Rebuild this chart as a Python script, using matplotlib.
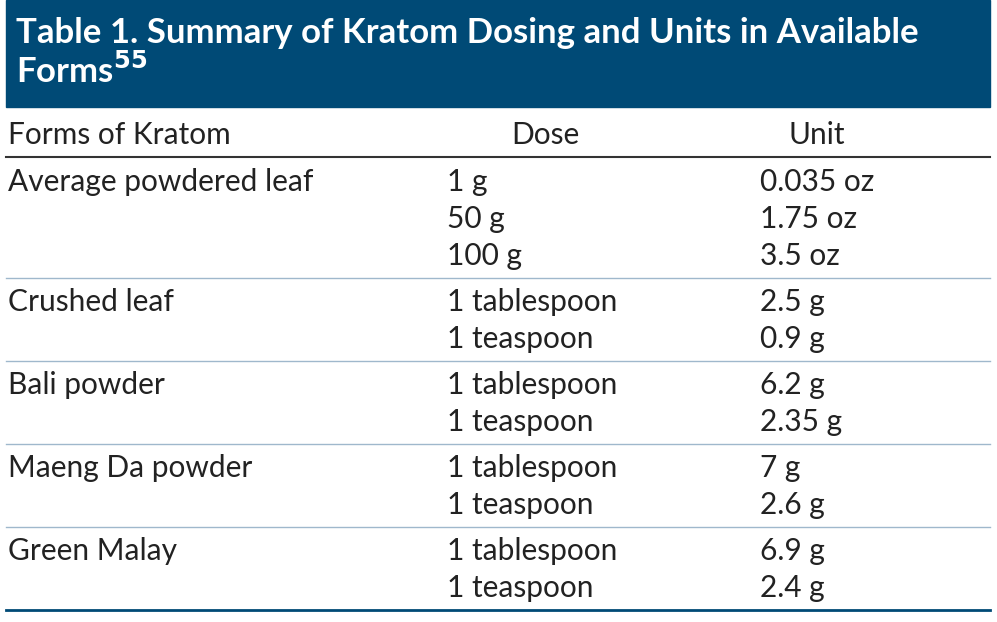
import matplotlib.pyplot as plt
from matplotlib.patches import Rectangle

title = "Table 1. Summary of Kratom Dosing and Units in Available\nForms$\\mathbf{^{55}}$"
columns = ["Forms of Kratom", "Dose", "Unit"]
forms = ["Average powdered leaf", "Crushed leaf", "Bali powder", "Maeng Da powder", "Green Malay"]
doses = [["1 g", "50 g", "100 g"],
         ["1 tablespoon", "1 teaspoon"],
         ["1 tablespoon", "1 teaspoon"],
         ["1 tablespoon", "1 teaspoon"],
         ["1 tablespoon", "1 teaspoon"]]
units = [["0.035 oz", "1.75 oz", "3.5 oz"],
         ["2.5 g", "0.9 g"],
         ["6.2 g", "2.35 g"],
         ["7 g", "2.6 g"],
         ["6.9 g", "2.4 g"]]

navy = "#004a76"
plt.rcParams["font.family"] = "Lato"
fig = plt.figure(figsize=(9.97, 6.22), dpi=100)
ax = fig.add_axes([0, 0, 1, 1])
ax.set_xlim(0, 997)
ax.set_ylim(622, 0)
ax.axis("off")

ax.add_patch(Rectangle((6, 0), 984, 107, color=navy))
ax.text(16, 53, title, color="white", fontsize=25, fontweight="bold",
        va="center", ha="left", linespacing=1.1)

fs = 21.5
ax.text(8, 135, columns[0], fontsize=fs, va="center", color="#222")
ax.text(545, 135, columns[1], fontsize=fs, va="center", ha="center", color="#222")
ax.text(817, 135, columns[2], fontsize=fs, va="center", ha="center", color="#222")
ax.plot([6, 990], [157, 157], color="#333", lw=1.5)

y = 182
step = 37
for i, form in enumerate(forms):
    ax.text(8, y, form, fontsize=fs, va="center", color="#222")
    for j in range(len(doses[i])):
        ax.text(447, y + j * step, doses[i][j], fontsize=fs, va="center", color="#222")
        ax.text(760, y + j * step, units[i][j], fontsize=fs, va="center", color="#222")
    yl = y + (len(doses[i]) - 1) * step + 22
    if i < len(forms) - 1:
        ax.plot([6, 990], [yl, yl], color="#9fb8cc", lw=1)
    else:
        ax.plot([6, 990], [yl, yl], color=navy, lw=2)
    y = yl + 24

fig.savefig("out.png", dpi=100)
